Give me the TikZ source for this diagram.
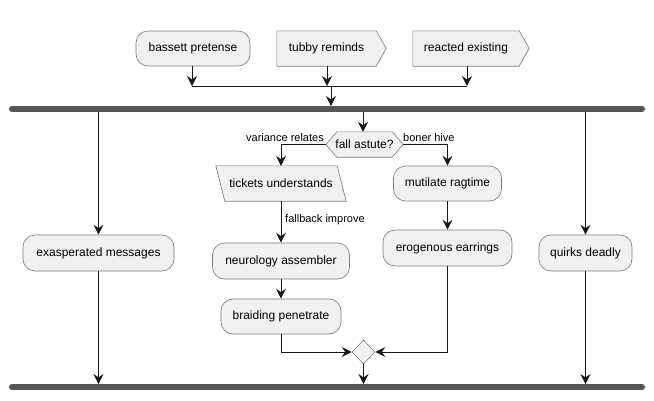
\documentclass[tikz,border=0pt]{standalone}
\usepackage{fontspec}
\setmainfont{Liberation Sans}
\usetikzlibrary{arrows.meta,shapes.geometric,calc}
\definecolor{boxfill}{HTML}{F1F1F1}
\definecolor{boxline}{HTML}{7A7A7A}
\definecolor{ink}{HTML}{181818}
\definecolor{barcol}{HTML}{555555}
\tikzset{
  txt/.style={font=\fontsize{12}{14}\selectfont, inner sep=0pt},
  actbox/.style={txt, draw=boxline, fill=boxfill, line width=0.6pt, rounded corners=12pt, rectangle},
  shapeline/.style={draw=boxline, fill=boxfill, line width=0.6pt},
  flow/.style={draw=ink, line width=0.9pt, -{Stealth[length=10pt,width=10pt,inset=3.5pt]}},
  plain/.style={draw=ink, line width=0.9pt},
  bar/.style={draw=barcol, line width=6pt, line cap=round},
  lbl/.style={font=\fontsize{11}{13}\selectfont, inner sep=0pt},
}
\begin{document}
\begin{tikzpicture}[x=1pt,y=-1pt]
\useasboundingbox (0,0) rectangle (654,400);

% top row
\node[actbox, minimum width=114pt, minimum height=35pt] (bp) at (193,48.5) {bassett pretense};
\node[txt, minimum width=99pt, minimum height=35pt] (tr) at (326.5,48.5) {};
\draw[shapeline] (tr.north west) -- (tr.north east) -- ++(10,17.5) -- (tr.south east) -- (tr.south west) -- cycle;
\node[txt] at (tr.center) {tubby reminds};
\node[txt, minimum width=106pt, minimum height=35pt] (re) at (466,48.5) {};
\draw[shapeline] (re.north west) -- (re.north east) -- ++(10,17.5) -- (re.south east) -- (re.south west) -- cycle;
\node[txt] at (re.center) {reacted existing};

\coordinate (j1) at (192,86);
\coordinate (j2) at (327,86);
\coordinate (j3) at (467,86);
\coordinate (jm) at (331,86);
\draw[flow] (bp.south -| j1) -- (j1);
\draw[flow] (tr.south -| j2) -- (j2);
\draw[flow] (re.south -| j3) -- (j3);
\draw[plain] (j1) -- (j3);

% fork bar
\coordinate (f1l) at (12,109);
\coordinate (f1r) at (642,109);
\draw[bar] (f1l) -- (f1r);
\coordinate (f1top) at (331,106);
\draw[flow] (jm) -- (f1top);

% join bar
\coordinate (f2l) at (12,387);
\coordinate (f2r) at (642,387);
\draw[bar] (f2l) -- (f2r);

% left branch
\node[actbox, minimum width=151pt, minimum height=36pt] (ex) at (98.5,253) {exasperated messages};
\draw[flow] (98.5,112) -- (ex.north);
\draw[flow] (ex.south) -- (98.5,384);

% right branch
\node[actbox, minimum width=93pt, minimum height=36pt] (qd) at (585.5,253) {quirks deadly};
\draw[flow] (585.5,112) -- (qd.north);
\draw[flow] (qd.south) -- (585.5,384);

% decision
\node[txt, minimum width=55pt, minimum height=25pt] (fa) at (364.5,144.5) {};
\draw[shapeline] (fa.north west) -- (fa.north east) -- ++(11,12.5) -- (fa.south east) -- (fa.south west) -- ++(-11,-12.5) -- cycle;
\node[txt] at (fa.center) {fall astute?};
\coordinate (dl) at (326,144.5);
\coordinate (dr) at (403,144.5);
\draw[flow] (363,112) -- (fa.north -| 363,0);

% left sub-branch
\node[txt, minimum width=121pt, minimum height=35pt] (tk) at (281,183.5) {};
\draw[shapeline] ($(tk.north west)+(-4.5,0)$) -- ($(tk.north east)+(-4.5,0)$) -- ($(tk.south east)+(4.5,0)$) -- ($(tk.south west)+(4.5,0)$) -- cycle;
\node[txt] at (tk.center) {tickets understands};
\draw[flow] (dl) -| (tk.north);
\node[lbl, anchor=east] at (324,138) {variance relates};

\node[actbox, minimum width=137pt, minimum height=36pt] (na) at (281,261) {neurology assembler};
\draw[flow] (tk.south) -- (na.north);
\node[lbl, anchor=west] at (285,220) {fallback improve};

\node[actbox, minimum width=120pt, minimum height=35pt] (bpn) at (281,316.5) {braiding penetrate};
\draw[flow] (na.south) -- (bpn.north);

% right sub-branch
\node[actbox, minimum width=108pt, minimum height=35pt] (mr) at (447.5,183.5) {mutilate ragtime};
\draw[flow] (dr) -| (mr.north);
\node[lbl, anchor=west] at (403,138) {boner hive};

\node[actbox, minimum width=129pt, minimum height=36pt] (ee) at (447.5,248) {erogenous earrings};
\draw[flow] (mr.south) -- (ee.north);

% merge
\node[shapeline, diamond, inner sep=0pt, minimum width=23pt, minimum height=24pt] (mg) at (363.5,352) {};
\draw[flow] (bpn.south) |- (mg.west);
\draw[flow] (ee.south) |- (mg.east);
\draw[flow] (mg.south) -- (363.5,384);
\end{tikzpicture}
\end{document}
